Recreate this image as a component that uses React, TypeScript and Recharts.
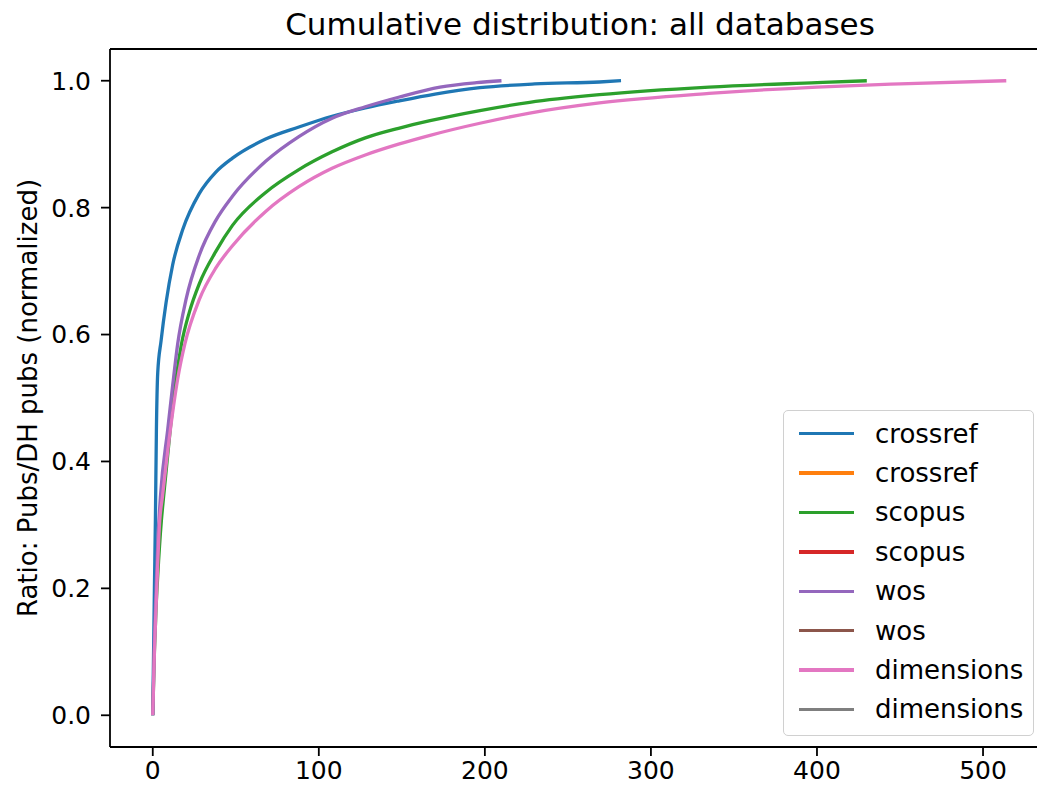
import React from 'react'
import { LineChart, Line, XAxis, YAxis, Legend, ReferenceLine } from 'recharts'

// [ratio, cumulative share]
const CROSSREF: [number, number][] = [
  [0, 0], [1, 0.2], [1.6, 0.31], [2.2, 0.45], [3, 0.54], [5, 0.59], [8, 0.65], [12, 0.71],
  [18, 0.765], [28, 0.822], [38, 0.856], [48, 0.878], [68, 0.908], [88, 0.927], [108, 0.944],
  [128, 0.957], [148, 0.968], [170, 0.979], [197, 0.989], [230, 0.995], [269, 0.998], [282, 1.0],
]
const SCOPUS: [number, number][] = [
  [0, 0], [1, 0.1], [2, 0.17], [3, 0.22], [5.2, 0.307], [6.5, 0.344], [10.5, 0.45], [14, 0.53],
  [17.3, 0.585], [22, 0.635], [28, 0.68], [38, 0.731], [48, 0.772], [68, 0.824], [88, 0.86],
  [108, 0.888], [128, 0.91], [148, 0.925], [167, 0.937], [197, 0.953], [227, 0.966],
  [269, 0.978], [335, 0.99], [400, 0.997], [430, 1.0],
]
const WOS: [number, number][] = [
  [0, 0], [1, 0.12], [2, 0.2], [3, 0.27], [4.6, 0.344], [9, 0.45], [12, 0.52], [15, 0.585],
  [20, 0.655], [28, 0.725], [38, 0.78], [48, 0.818], [68, 0.873], [88, 0.912], [108, 0.941],
  [128, 0.959], [148, 0.974], [173, 0.99], [195, 0.997], [210, 1.0],
]
const DIMENSIONS: [number, number][] = [
  [0, 0], [1, 0.1], [2, 0.17], [4.2, 0.307], [5.8, 0.344], [10.6, 0.45], [15, 0.53],
  [19.3, 0.585], [28, 0.655], [38, 0.705], [48, 0.74], [68, 0.794], [88, 0.833], [108, 0.862],
  [128, 0.883], [148, 0.9], [167, 0.914], [197, 0.933], [227, 0.949], [269, 0.965], [335, 0.98],
  [400, 0.99], [450, 0.995], [514, 1.0],
]

// second entry of each pair has no visible data in the source figure
const SERIES: { name: string; color: string; points: [number, number][] }[] = [
  { name: 'crossref', color: '#1f77b4', points: CROSSREF },
  { name: 'crossref', color: '#ff7f0e', points: [] },
  { name: 'scopus', color: '#2ca02c', points: SCOPUS },
  { name: 'scopus', color: '#d62728', points: [] },
  { name: 'wos', color: '#9467bd', points: WOS },
  { name: 'wos', color: '#8c564b', points: [] },
  { name: 'dimensions', color: '#e377c2', points: DIMENSIONS },
  { name: 'dimensions', color: '#7f7f7f', points: [] },
]

const X_TICKS = [0, 100, 200, 300, 400, 500]
const Y_TICKS = [0, 0.2, 0.4, 0.6, 0.8, 1.0]

const FONT = '"DejaVu Sans", sans-serif'
const SPINE = 1.8

function LegendBox() {
  return (
    <div
      style={{
        boxSizing: 'border-box',
        width: 251,
        height: 326,
        border: '1.5px solid #d0d0d0',
        borderRadius: 5,
        background: 'rgba(255,255,255,0.8)',
        paddingTop: 3,
        fontFamily: FONT,
        fontSize: 26,
        color: '#000',
      }}
    >
      {SERIES.map((s, i) => (
        <div key={i} style={{ display: 'flex', alignItems: 'center', height: 39.4 }}>
          <div style={{ marginLeft: 15, width: 55, height: 3.3, background: s.color }} />
          <span style={{ marginLeft: 21, lineHeight: '30px' }}>{s.name}</span>
        </div>
      ))}
    </div>
  )
}

export default function App() {
  return (
    <div style={{ position: 'absolute', left: 0, top: 0, width: 1037, height: 791, overflow: 'hidden', background: '#fff' }}>
      <div
        style={{
          position: 'absolute',
          left: 0,
          top: 6,
          width: 1160,
          textAlign: 'center',
          fontFamily: FONT,
          fontSize: 31,
          lineHeight: '36px',
          color: '#000',
        }}
      >
        Cumulative distribution: all databases
      </div>
      <LineChart width={1037} height={791} margin={{ top: 49, right: 0, bottom: 0, left: 0 }}>
        <XAxis
          type="number"
          dataKey="x"
          domain={[-25.75, 532.5]}
          ticks={X_TICKS}
          allowDataOverflow
          height={44}
          tickSize={9}
          tickMargin={5}
          axisLine={{ stroke: '#000', strokeWidth: SPINE }}
          tickLine={{ stroke: '#000', strokeWidth: SPINE }}
          tick={{ fill: '#000', fontSize: 25, fontFamily: FONT }}
        />
        <YAxis
          type="number"
          dataKey="y"
          domain={[-0.05, 1.05]}
          ticks={Y_TICKS}
          allowDataOverflow
          width={110}
          tickSize={9}
          tickMargin={10}
          tickFormatter={(v: number) => v.toFixed(1)}
          axisLine={{ stroke: '#000', strokeWidth: SPINE }}
          tickLine={{ stroke: '#000', strokeWidth: SPINE }}
          tick={{ fill: '#000', fontSize: 25, fontFamily: FONT }}
          label={{
            value: 'Ratio: Pubs/DH pubs (normalized)',
            angle: -90,
            position: 'center',
            dx: -27,
            style: { fill: '#000', fontSize: 26, fontFamily: FONT, textAnchor: 'middle' },
          }}
        />
        <ReferenceLine y={1.05} stroke="#000" strokeWidth={SPINE} />
        {SERIES.map((s, i) => (
          <Line
            key={i}
            data={s.points.map(([x, y]) => ({ x, y }))}
            dataKey="y"
            name={s.name}
            type="monotone"
            stroke={s.color}
            strokeWidth={3.3}
            dot={false}
            activeDot={false}
            isAnimationActive={false}
          />
        ))}
        <Legend
          layout="vertical"
          align="center"
          verticalAlign="middle"
          wrapperStyle={{ left: 783, top: 410, width: 251, height: 326 }}
          content={() => <LegendBox />}
        />
      </LineChart>
    </div>
  )
}
